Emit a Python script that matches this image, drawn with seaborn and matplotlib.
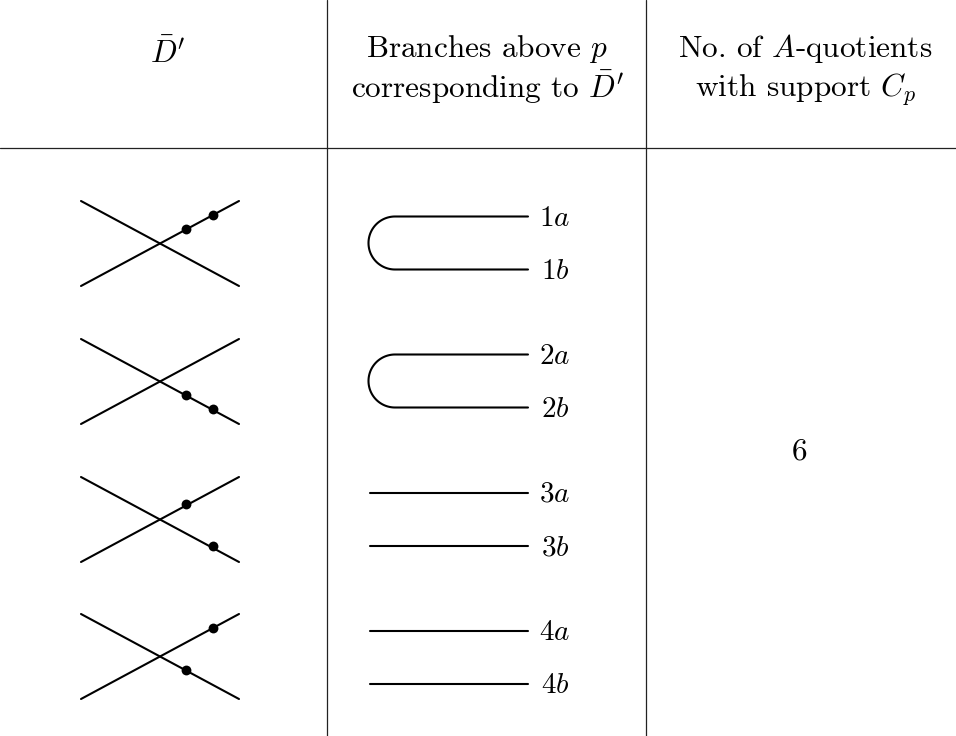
import numpy as np
import pandas as pd
import matplotlib
matplotlib.use('Agg')
import matplotlib.pyplot as plt
import seaborn as sns

# DATA
row_y = [0, 138, 276, 413]
cross_a_start = (81, 201)
cross_a_end = (239, 286)
cross_b_start = (81, 286)
cross_b_end = (239, 201)
dots_x = [[186, 213], [186, 213], [186, 213], [213, 186]]
dots_y = [[229, 215], [257, 271], [228, 270], [215, 257]]
branch_tops = [216.5, 354.5, 492.5, 630.5]
branch_bots = [269.5, 407.5, 545.5, 683.5]
branch_labels = [('1', 'a', 'b'), ('2', 'a', 'b'), ('3', 'a', 'b'), ('4', 'a', 'b')]
curved = [True, True, False, False]
header_1 = [r"$\bar{D}'$"]
header_2 = ["Branches above $p$", "corresponding to $\\bar{D}'$"]
header_3 = ["No. of $A$-quotients", "with support $C_p$"]
count_label = "6"

sns.set_theme(style='white')
plt.rcParams['font.family'] = ['cmr10', 'DejaVu Serif']
plt.rcParams['mathtext.fontset'] = 'cm'
plt.rcParams['axes.unicode_minus'] = False

fig, ax = plt.subplots(figsize=(9.56, 7.36), dpi=100)
fig.subplots_adjust(0, 0, 1, 1)
ax.set_xlim(0, 956)
ax.set_ylim(736, 0)
ax.axis('off')

fs = 21
fs_head = 22.5

# table rules
ax.plot([0, 956], [147.5, 147.5], color='#222222', lw=0.9)
ax.plot([327, 327], [0, 736], color='#222222', lw=0.9)
ax.plot([646, 646], [0, 736], color='#222222', lw=0.9)

# headers
ax.text(167, 62, header_1[0], ha='center', va='baseline', fontsize=fs_head, color='black')
for x, lines in ((487, header_2), (805, header_3)):
    ax.text(x, 57, lines[0], ha='center', va='baseline', fontsize=fs_head, color='black')
    ax.text(x, 97, lines[1], ha='center', va='baseline', fontsize=fs_head, color='black')
ax.text(800, 459, count_label, ha='center', va='baseline', fontsize=fs_head, color='black')

for i, off in enumerate(row_y):
    # the two crossing strands
    sns.lineplot(x=[cross_a_start[0], cross_a_end[0]], y=[cross_a_start[1] + off, cross_a_end[1] + off], ax=ax, color='black', lw=1.5, errorbar=None)
    sns.lineplot(x=[cross_b_start[0], cross_b_end[0]], y=[cross_b_start[1] + off, cross_b_end[1] + off], ax=ax, color='black', lw=1.5, errorbar=None)
    sns.scatterplot(x=dots_x[i], y=[v + off for v in dots_y[i]], ax=ax, color='black', s=50, linewidth=0, zorder=5)

    top, bot = branch_tops[i], branch_bots[i]
    if curved[i]:
        r = (bot - top) / 2
        t = np.linspace(np.pi / 2, 3 * np.pi / 2, 60)
        xs = np.concatenate([[528], 395 + r * np.cos(t), [528]])
        ys = np.concatenate([[top], (top + bot) / 2 - r * np.sin(t), [bot]])
        ax.plot(xs, ys, color='black', lw=1.5)
    else:
        ax.plot([370, 528], [top, top], color='black', lw=1.5)
        ax.plot([370, 528], [bot, bot], color='black', lw=1.5)
    num, a, b = branch_labels[i]
    for y, letter in zip((top, bot), (a, b)):
        ax.text(555, y + 9.5, '%s$%s$' % (num, letter), ha='center', va='baseline', fontsize=fs, color='black')

fig.savefig('out.png', dpi=100)
